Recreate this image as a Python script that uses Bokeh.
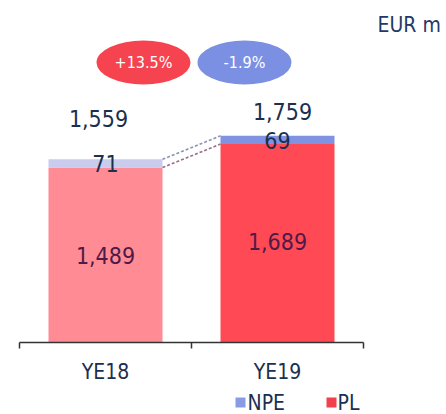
from bokeh.plotting import figure
from bokeh.models import Range1d, ColumnDataSource
from bokeh.core.properties import value
from bokeh.embed import file_html
from bokeh.resources import INLINE
import numpy as np

# ---- data ----
categories = ["YE18", "YE19"]
pl = [1489, 1689]
npe = [71, 69]
totals = [1559, 1759]
changes = ["+13.5%", "-1.9%"]
unit_label = "EUR m"
series_names = ["NPE", "PL"]

# ---- style ----
pl_colors = ["#FF8C95", "#FF4A55"]
npe_colors = ["#C9CCEC", "#7F93E2"]
badge_colors = ["#F5434F", "#7B90E3"]
legend_colors = ["#8A9BE6", "#F2404D"]
navy = "#1B2F4E"
plum = "#4E1A48"
FONT = "DejaVu Sans Condensed"

W, H = 446, 414
# pixel layout -> data ranges (baseline at pixel 342, 0.1175 px per unit; category unit = 172 px)
base_px, ypx = 342, 0.1175
x0_px, xpx = 19, 172
x_range = Range1d(-x0_px / xpx, (W - x0_px) / xpx)
y_range = Range1d(-(H - base_px) / ypx, base_px / ypx)

def dx(px):
    return (px - x0_px) / xpx

def dy(py):
    return (base_px - py) / ypx

p = figure(width=W, height=H, x_range=x_range, y_range=y_range,
           output_backend="svg", toolbar_location=None, min_border=0,
           background_fill_color="white", border_fill_color="white")
p.axis.visible = False
p.grid.visible = False
p.outline_line_color = None

xs = np.arange(len(categories)) + 0.5
bw = 114 / xpx

src = ColumnDataSource(dict(x=xs, pl=pl, npe=npe, tot=totals,
                            plc=pl_colors, npc=npe_colors,
                            zero=[0] * len(xs)))
p.vbar(x="x", bottom="zero", top="pl", width=bw, fill_color="plc",
       line_color=None, source=src)
p.vbar(x="x", bottom="pl", top="tot", width=bw, fill_color="npc",
       line_color=None, source=src)

# dashed connectors
p.segment(x0=[xs[0] + bw / 2], y0=[totals[0]], x1=[xs[1] - bw / 2], y1=[totals[1]],
          line_color="#8A94B8", line_width=1.6, line_dash="3 2")
p.segment(x0=[xs[0] + bw / 2], y0=[pl[0]], x1=[xs[1] - bw / 2], y1=[pl[1]],
          line_color="#9A7088", line_width=1.6, line_dash="3 2")

# axis line with ticks at category boundaries
p.segment(x0=[0], y0=[0], x1=[len(categories)], y1=[0], line_color="#333333", line_width=1.5)
ticks = np.arange(len(categories) + 1)
p.segment(x0=ticks, y0=[0] * len(ticks), x1=ticks, y1=[dy(base_px + 6)] * len(ticks),
          line_color="#333333", line_width=1.5)

# value labels
p.text(x=[dx(98), dx(282)], y=totals, text=[f"{v:,}" for v in totals],
       y_offset=[-41, -24], text_align="center", text_baseline="middle",
       text_font=value(FONT), text_font_size="23px", text_color=navy)
p.text(x=xs, y=totals, text=[f"{v:,}" for v in npe], y_offset=[4, 5],
       text_align="center", text_baseline="middle",
       text_font=value(FONT), text_font_size="23px", text_color=navy)
p.text(x=xs, y=[v / 2 for v in pl], text=[f"{v:,}" for v in pl], y_offset=[0, -2],
       text_align="center", text_baseline="middle",
       text_font=value(FONT), text_font_size="23px", text_color=plum)

# category labels
p.text(x=xs, y=[dy(371)] * 2, text=categories, text_align="center", text_baseline="middle",
       text_font=value(FONT), text_font_size="21px", text_color=navy)

# change badges
bx = [dx(143), dx(244)]
by = [dy(62)] * 2
p.ellipse(x=bx, y=by, width=94, height=44, width_units="screen", height_units="screen",
          fill_color=badge_colors, line_color=None)
p.text(x=bx, y=by, text=changes, text_align="center", text_baseline="middle",
       text_font=value(FONT), text_font_size="16px", text_color="white")

# unit label
p.text(x=[dx(377)], y=[dy(24)], text=[unit_label], text_align="left", text_baseline="middle",
       text_font=value(FONT), text_font_size="21px", text_color="#1F3A6A")

# legend
lx = [dx(240), dx(331)]
ly = [dy(402)] * 2
p.scatter(x=lx, y=ly, marker="square", size=10, fill_color=legend_colors, line_color=None)
p.text(x=[dx(247), dx(337)], y=ly, text=series_names, text_align="left", text_baseline="middle",
       text_font=value(FONT), text_font_size="21px", text_color=navy)

open("out.html", "w").write(file_html(p, INLINE))
